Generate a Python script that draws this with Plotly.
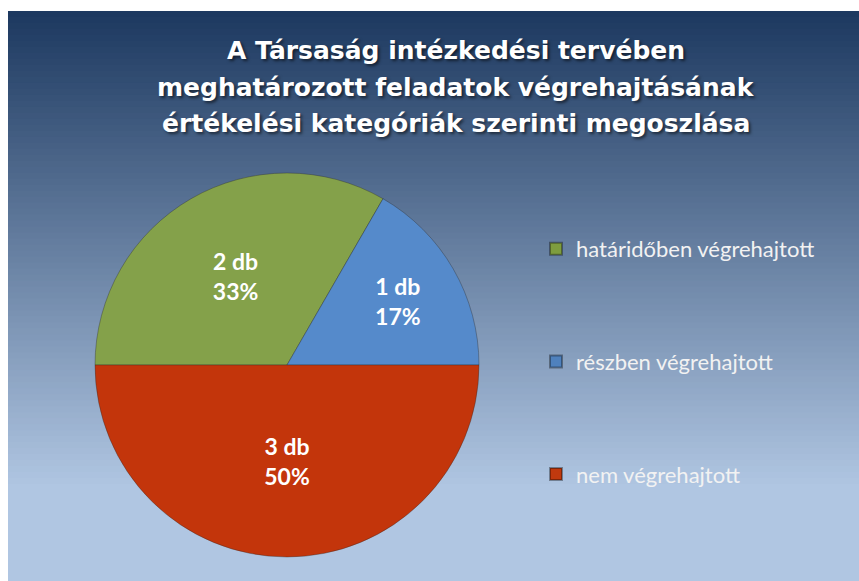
import plotly.graph_objects as go

# ---- data ----
categories = ["határidőben végrehajtott", "részben végrehajtott", "nem végrehajtott"]
counts = [2, 1, 3]
title_lines = ["A Társaság intézkedési tervében",
               "meghatározott feladatok végrehajtásának",
               "értékelési kategóriák szerinti megoszlása"]

slice_colors = ["#84A14A", "#558ACB", "#C3350B"]
legend_colors = ["#7E9D3F", "#4F81BD", "#C0390E"]

W, H = 859, 581
fig = go.Figure()

fig.add_trace(go.Pie(
    labels=categories, values=counts, sort=False, direction="clockwise",
    rotation=270,
    marker=dict(colors=slice_colors, line=dict(color="rgba(40,40,40,0.35)", width=1)),
    texttemplate="%{value} db<br>%{percent:.0%}",
    textposition="inside", insidetextorientation="horizontal",
    textfont=dict(family="Lato", size=23, color="white", weight="bold"),
    showlegend=False, hoverinfo="label+value+percent",
    domain=dict(x=[95 / W, 479 / W], y=[1 - 557 / H, 1 - 173 / H]),
))

# legend entries (one group per category for spacing)
for i, (cat, col) in enumerate(zip(categories, legend_colors)):
    fig.add_trace(go.Scatter(
        x=[None], y=[None], mode="markers", name=cat, legendgroup=cat,
        marker=dict(symbol="square", size=14, color=col,
                    line=dict(color="rgba(0,0,0,0.35)", width=1)),
        hoverinfo="skip",
    ))

# background gradient (vertical)
top_c = (0x1D, 0x39, 0x60)
bot_c = (0xB0, 0xC6, 0xE2)
y_top, y_end = 11, 490
n = 80
shapes = []
for k in range(n):
    f = k / (n - 1)
    c = tuple(round(top_c[j] + (bot_c[j] - top_c[j]) * f) for j in range(3))
    ya = y_top + (y_end - y_top) * k / n
    yb = y_top + (y_end - y_top) * (k + 1) / n + 0.8
    shapes.append(dict(type="rect", xref="paper", yref="paper", layer="below",
                       x0=8 / W, x1=1, y0=1 - yb / H, y1=1 - ya / H,
                       line=dict(width=0), fillcolor="rgb(%d,%d,%d)" % c))
shapes.append(dict(type="rect", xref="paper", yref="paper", layer="below",
                   x0=8 / W, x1=1, y0=0, y1=1 - y_end / H,
                   line=dict(width=0), fillcolor="rgb(%d,%d,%d)" % bot_c))

# title lines as annotations (to match the wide line spacing)
title_y = [50, 87, 123]
annotations = []
for line, yy in zip(title_lines, title_y):
    annotations.append(dict(
        text=line, xref="paper", yref="paper", x=456 / W, y=1 - yy / H,
        xanchor="center", yanchor="middle", showarrow=False,
        font=dict(family="DejaVu Sans", size=25, color="white", weight="bold",
                  shadow="2px 2px 3px rgba(0,0,0,0.55)")))

fig.update_layout(
    width=W, height=H,
    margin=dict(l=0, r=0, t=0, b=0),
    paper_bgcolor="white", plot_bgcolor="rgba(0,0,0,0)",
    shapes=shapes, annotations=annotations,
    xaxis=dict(visible=False), yaxis=dict(visible=False),
    legend=dict(x=536 / W, xanchor="left", y=1 - 228 / H, yanchor="top",
                font=dict(family="Lato", size=22, color="#F2F2F2"),
                bgcolor="rgba(0,0,0,0)", tracegroupgap=81, itemsizing="constant"),
)

fig.write_html("out.html")
